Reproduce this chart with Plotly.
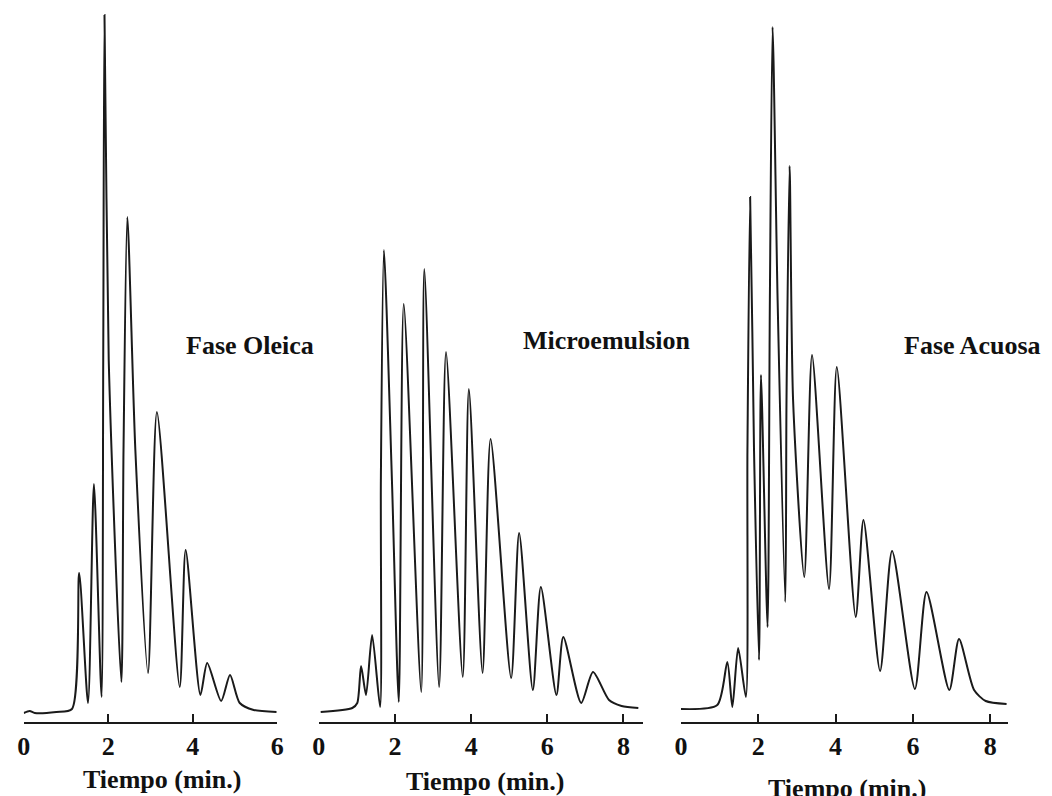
import plotly.graph_objects as go

W, H = 1052, 796

# ---- data ----
# Fase Oleica
oleica_t = [0.00, 0.14, 0.26, 0.77, 1.14, 1.31, 1.52, 1.66, 1.84, 1.88, 1.91, 2.01, 2.31, 2.36, 2.45, 2.64,
            2.94, 3.15, 3.69, 3.83, 4.18, 4.34, 4.67, 4.88, 5.11, 5.44, 5.98]
oleica_s = [0, 2, 0, 1, 4, 140, 10, 229, 16, 353, 698, 353, 31, 263, 496, 263,
            40, 301, 26, 163, 18, 50, 12, 38, 10, 3, 1]
# Microemulsion
micro_t = [0.05, 0.88, 1.01, 1.11, 1.24, 1.40, 1.61, 1.63, 1.71, 1.92, 2.10, 2.23, 2.69, 2.77, 3.16, 3.34,
           3.78, 3.94, 4.30, 4.51, 5.05, 5.26, 5.62, 5.83, 6.24, 6.42, 6.89, 7.20, 7.62, 7.95, 8.39]
micro_s = [0, 4, 9, 46, 17, 77, 5, 232, 462, 232, 10, 408, 20, 443, 25, 360,
           35, 323, 39, 273, 34, 179, 22, 125, 17, 75, 9, 40, 12, 6, 4]
# Fase Acuosa
acuosa_t = [0.00, 0.94, 1.20, 1.33, 1.48, 1.68, 1.72, 1.79, 1.89, 2.02, 2.07, 2.24, 2.30, 2.37, 2.50,
            2.70, 2.73, 2.81, 2.90, 3.19, 3.39, 3.83, 4.03, 4.52, 4.72, 5.15, 5.46, 6.05, 6.35, 6.94,
            7.19, 7.58, 7.88, 8.42]
acuosa_s = [0, 4, 47, 2, 61, 12, 259, 512, 259, 49, 334, 82, 409, 682, 409,
            107, 309, 543, 309, 132, 354, 120, 342, 92, 189, 38, 158, 20, 117, 19,
            70, 19, 8, 5]

panel_labels = ["Fase Oleica", "Microemulsion", "Fase Acuosa"]
xaxis_title = "Tiempo (min.)"
ticks_1 = [0, 2, 4, 6]
ticks_23 = [0, 2, 4, 6, 8]

# ---- layout helpers (pixel -> paper) ----
def px(x):
    return x / W

def py(y):
    return 1 - y / H

AXIS_Y = 722
FONT = "Liberation Serif"

fig = go.Figure()

panels = [
    dict(t=oleica_t, s=oleica_s, x0=17, x1=274, xr=[0, 6], base=713, ticks=ticks_1),
    dict(t=micro_t, s=micro_s, x0=316, x1=316 + 8.5 * 38.6, xr=[0, 8.5], base=712, ticks=ticks_23),
    dict(t=acuosa_t, s=acuosa_s, x0=683, x1=683 + 8.45 * 39.2, xr=[0, 8.45], base=709, ticks=ticks_23),
]

for i, p in enumerate(panels, start=1):
    sfx = "" if i == 1 else str(i)
    fig.add_trace(go.Scatter(
        x=p["t"], y=p["s"], mode="lines",
        line=dict(color="#1a1a1a", width=2, shape="spline", smoothing=0.7),
        xaxis="x" + sfx, yaxis="y" + sfx, showlegend=False, hoverinfo="skip",
    ))
    fig.layout["xaxis" + sfx] = dict(
        domain=[px(p["x0"]), px(p["x1"])], range=p["xr"], anchor="y" + sfx,
        showline=True, linecolor="#1a1a1a", linewidth=2,
        ticks="inside", ticklen=8, tickwidth=2, tickcolor="#1a1a1a",
        tickvals=p["ticks"], ticktext=[str(v) for v in p["ticks"]],
        tickfont=dict(family=FONT, size=26, color="#111", weight="bold"),
        showgrid=False, zeroline=False, fixedrange=True,
    )
    fig.layout["yaxis" + sfx] = dict(
        domain=[py(AXIS_Y), 1], range=[p["base"] - AXIS_Y, p["base"]],
        anchor="x" + sfx, visible=False, showgrid=False, zeroline=False,
    )

label_pos = [(246, 345), (608, 341), (979, 345)]
title_pos = [(157, 779), (484, 781), (851, 788)]
annotations = []
for (lx, ly), txt in zip(label_pos, panel_labels):
    annotations.append(dict(x=px(lx), y=py(ly), xref="paper", yref="paper", text="<b>%s</b>" % txt,
                            showarrow=False, xanchor="center", yanchor="middle",
                            font=dict(family=FONT, size=26, color="#111")))
for (tx, ty) in title_pos:
    annotations.append(dict(x=px(tx), y=py(ty), xref="paper", yref="paper", text="<b>%s</b>" % xaxis_title,
                            showarrow=False, xanchor="center", yanchor="middle",
                            font=dict(family=FONT, size=26, color="#111")))

fig.update_layout(
    width=W, height=H, margin=dict(l=0, r=0, t=0, b=0),
    paper_bgcolor="white", plot_bgcolor="white",
    font=dict(family=FONT, size=26, color="#111"),
    annotations=annotations,
)

fig.write_html(
    "out.html",
    post_script="document.body.style.margin='0';document.body.style.overflow='hidden';"
                "document.documentElement.style.overflow='hidden';",
)
